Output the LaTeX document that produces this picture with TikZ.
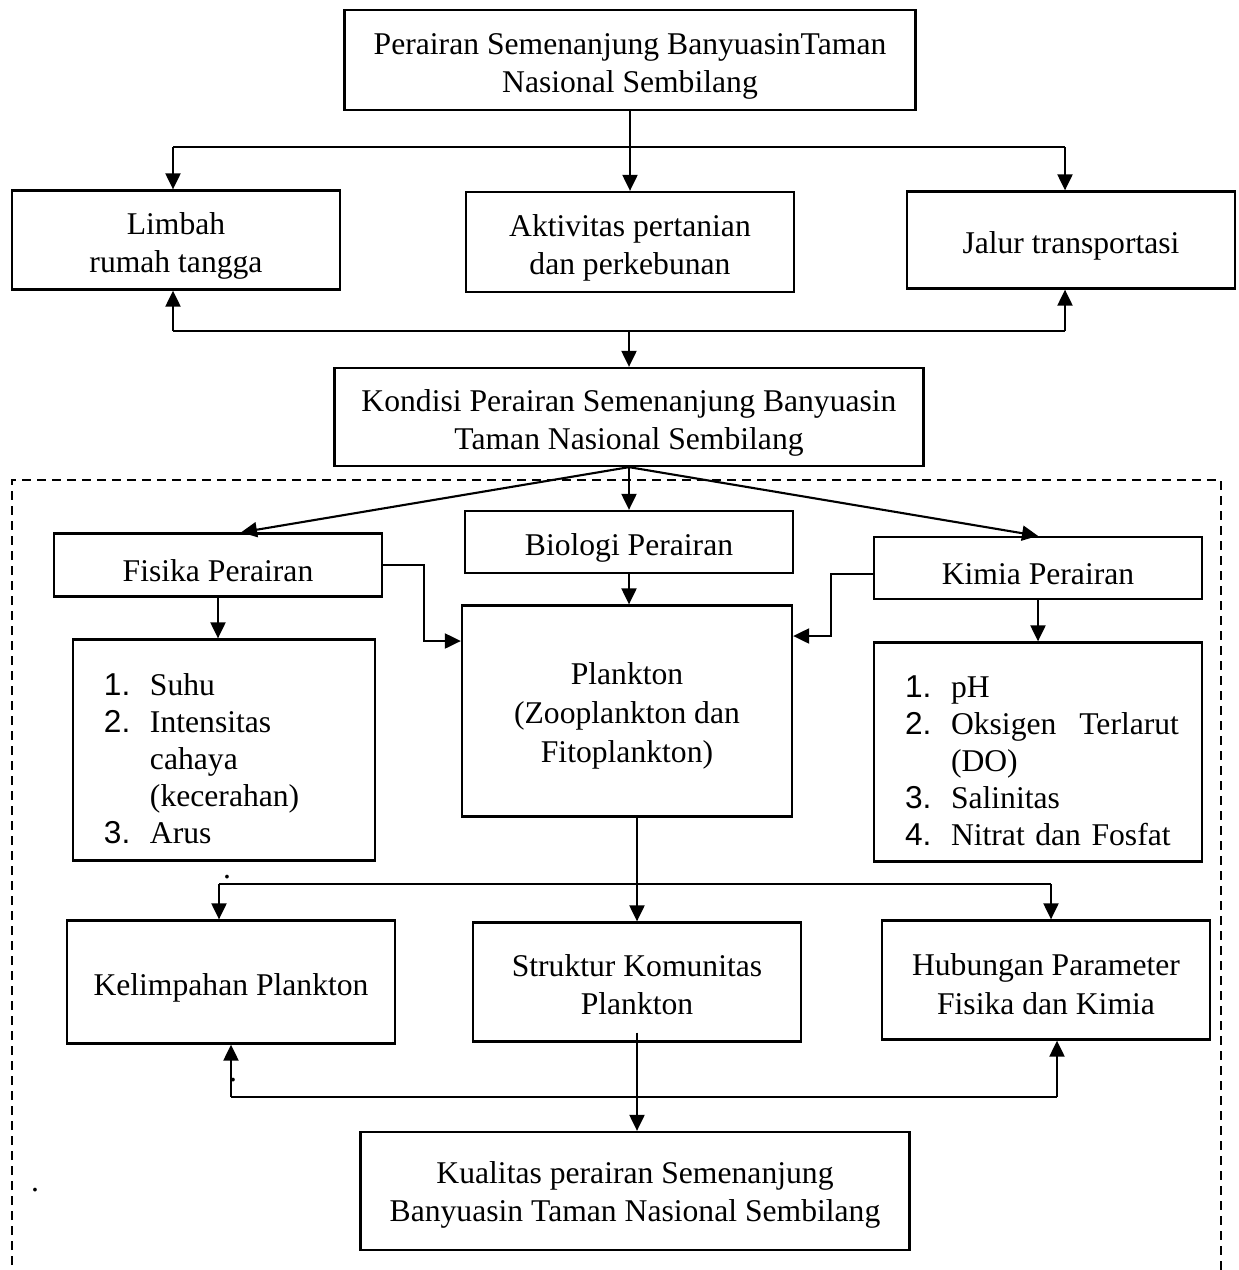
\documentclass[tikz,border=0pt]{standalone}
\usepackage{fontspec}
\setmainfont{Liberation Serif}
\setsansfont{Liberation Sans}
\usetikzlibrary{positioning,arrows.meta}
\newcommand{\baris}[1][6.8mm]{\rule{0pt}{#1}}

\begin{document}
\begin{tikzpicture}[
  x=0.2mm, y=-0.2mm,
  box/.style={draw, line width=1.3pt, minimum width=65.6mm, minimum height=20mm, align=center, inner sep=0pt, font=\fontsize{18}{22}\selectfont},
  listbox/.style={box, align=left, inner xsep=6.2mm, font=\fontsize{18}{21}\selectfont},
  arrow/.style={-{Triangle[length=3.2mm,width=3mm]}, line width=1.2pt},
  link/.style={line width=1.2pt},
  frame/.style={dash pattern=on 1.8mm off 1.2mm, line width=1.1pt},
  dotlab/.style={font=\fontsize{18}{21.5}\selectfont, inner sep=0pt},
]
\useasboundingbox (0,0) rectangle (1238,1270);
\draw[frame] (12,1280) -- (12,480) -- (1221,480) -- (1221,1280);
% boxes
\node[box, minimum width=114.2mm] (sumber) at (630,60) {\baris Perairan Semenanjung BanyuasinTaman\\Nasional Sembilang};
\node[box, minimum height=19.8mm] (limbah) at (176,240) {\baris Limbah\\rumah tangga};
\node[box] (tani) at (630,242) {\baris Aktivitas pertanian\\dan perkebunan};
\node[box, minimum height=19.4mm] (jalur) at (1071,240) {\baris Jalur transportasi};
\node[box, minimum width=117.8mm, minimum height=19.6mm] (kondisi) at (629,417) {\baris Kondisi Perairan Semenanjung Banyuasin\\Taman Nasional Sembilang};
\node[box, minimum height=12.6mm] (fisika) at (218,565) {\baris Fisika Perairan};
\node[box, minimum height=12.4mm] (biologi) at (629,542) {\baris Biologi Perairan};
\node[box, minimum height=12.4mm] (kimia) at (1038,568) {\baris Kimia Perairan};
\node[box, minimum width=66mm, minimum height=42.2mm] (plankton) at (627,711) {\baris[6.4mm]Plankton\\(Zooplankton dan\\Fitoplankton)};
\node[listbox, minimum width=60.4mm, text width=48mm, minimum height=44.2mm] (fislist) at (224,750) {%
  \begin{tabular}{@{}p{9.2mm}@{}l@{}}
  \textsf{1.} & \rule{0pt}{10mm}Suhu\\
  \textsf{2.} & Intensitas\\
   & cahaya\\
   & (kecerahan)\\
  \textsf{3.} & Arus
  \end{tabular}};
\node[listbox, text width=53.2mm, minimum height=43.8mm] (kimlist) at (1038,752) {%
  \begin{tabular}{@{}p{9.2mm}@{}l@{}}
  \textsf{1.} & \rule{0pt}{10mm}pH\\
  \textsf{2.} & \makebox[45.6mm][s]{Oksigen\hfill Terlarut}\\
   & (DO)\\
  \textsf{3.} & Salinitas\\
  \textsf{4.} & Nitrat dan Fosfat
  \end{tabular}};
\node[box, minimum height=24.6mm] (kelimpahan) at (231,982) {\baris Kelimpahan Plankton};
\node[box, minimum height=23.8mm] (struktur) at (637,982) {\baris[5.4mm]Struktur Komunitas\\Plankton};
\node[box, minimum height=23.8mm] (hubungan) at (1046,980) {\baris[6mm]Hubungan Parameter\\Fisika dan Kimia};
\node[box, minimum width=109.8mm, minimum height=23.6mm] (kualitas) at (635,1191) {\baris[6mm]Kualitas perairan Semenanjung\\Banyuasin Taman Nasional Sembilang};
% stray dots
\node[dotlab] (titikA) at (227,877) {.};
\node[dotlab] (titikB) at (233,1080) {.};
\node[dotlab] (titikC) at (35,1190) {.};
% junction points
\coordinate (sebarL) at (173,147);
\coordinate (sebarR) at (1065,147);
\coordinate (kumpulL) at (173,331);
\coordinate (kumpulR) at (1065,331);
\coordinate (cabangL) at (219,884);
\coordinate (cabangR) at (1051,884);
\coordinate (gabungL) at (231,1097);
\coordinate (gabungR) at (1057,1097);
% upper connectors
\draw[arrow] (sumber.south) -- (sumber.south |- tani.north);
\draw[link] (sebarL) -- (sebarR);
\draw[arrow] (sebarL) -- (sebarL |- limbah.north);
\draw[arrow] (sebarR) -- (sebarR |- jalur.north);
\draw[link] (kumpulL) -- (kumpulR);
\draw[arrow] (kumpulL) -- (kumpulL |- limbah.south);
\draw[arrow] (kumpulR) -- (kumpulR |- jalur.south);
\draw[arrow] (kumpulL -| kondisi.north) -- (kondisi.north);
% parameter connectors
\draw[arrow] (kondisi.south) -- ([xshift=4.6mm]fisika.north);
\draw[arrow] (kondisi.south) -- (kondisi.south |- biologi.north);
\draw[arrow] (kondisi.south) -- (kimia.north);
\draw[arrow] (fisika.east) -- ++(41,0) |- ([yshift=14mm]plankton.west);
\draw[arrow] ([yshift=-1.2mm]kimia.west) -- ++(-42,0) |- ([yshift=15mm]plankton.east);
\draw[arrow] (biologi.south) -- (biologi.south |- plankton.north);
\draw[arrow] (fisika.south) -- (fisika.south |- fislist.north);
\draw[arrow] (kimia.south) -- (kimia.south |- kimlist.north);
% lower connectors
\draw[arrow] (plankton.south -| struktur.north) -- (struktur.north);
\draw[link] (cabangL) -- (cabangR);
\draw[arrow] (cabangL) -- (cabangL |- kelimpahan.north);
\draw[arrow] (cabangR) -- (cabangR |- hubungan.north);
\draw[link] (gabungL) -- (gabungR);
\draw[arrow] (gabungL) -- (gabungL |- kelimpahan.south);
\draw[arrow] (gabungR) -- (gabungR |- hubungan.south);
\draw[arrow] ([yshift=2mm]struktur.south) -- (struktur.south |- kualitas.north);
\end{tikzpicture}
\end{document}
